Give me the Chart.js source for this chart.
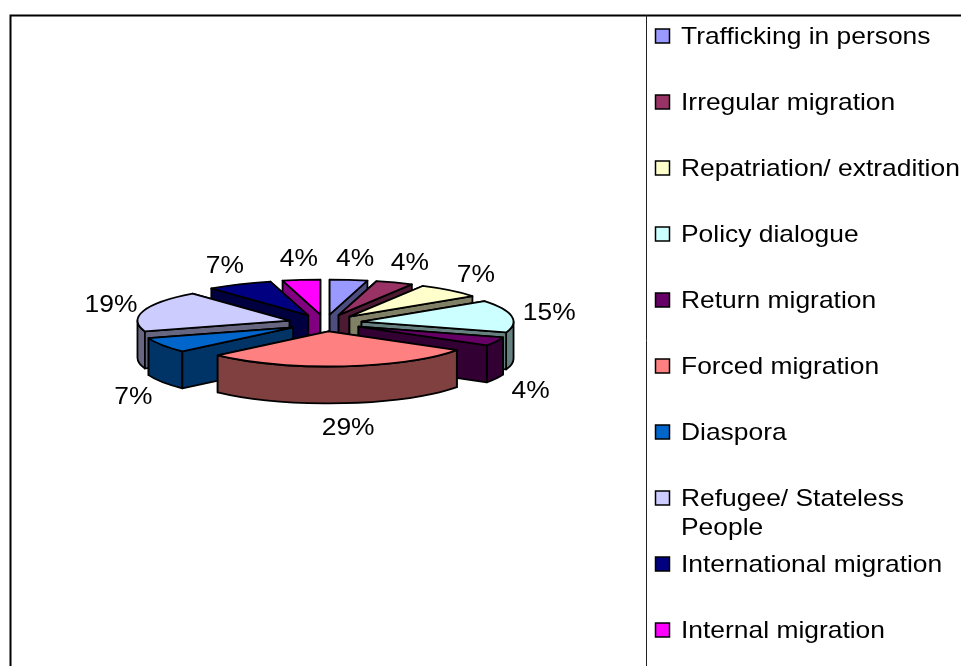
<!DOCTYPE html>
<html>
<head>
<meta charset="utf-8">
<style>html,body{margin:0;padding:0;background:#fff}canvas{display:block}</style>
<script src="https://cdn.jsdelivr.net/npm/chart.js@4"></script>
</head>
<body>
<canvas id="c" width="961" height="666"></canvas>
<script>
const categories = ['Trafficking in persons','Irregular migration','Repatriation/ extradition','Policy dialogue','Return migration','Forced migration','Diaspora','Refugee/ Stateless|People','International migration','Internal migration'];
const shares = [4,4,7,15,4,29,7,19,7,4];
const topColors = ['#9999FF','#993366','#FFFFCC','#CCFFFF','#660066','#FF8080','#0066CC','#CCCCFF','#000080','#FF00FF'];
const sideColors = ['#4D4D80','#4D1A33','#808066','#668080','#330033','#804040','#003366','#666680','#000040','#800080'];

const FONT = '24px "Liberation Sans", Arial, sans-serif';
const TEXT_STRETCH = 1.1;
const SQUASH = 0.23, DEPTH = 37, EXPLODE = 37, RADIUS = 152;
const LABEL_RX = 225, LABEL_RY = 65, LABEL_SHIFT_X = 2, LABEL_SHIFT_Y = 1, LABEL_DROP = 40;

function outline(ctx, fill){
  ctx.fillStyle = fill; ctx.fill(); ctx.stroke();
}
function stretchedText(ctx, text, x, y){
  ctx.save();
  ctx.translate(x,y);
  ctx.scale(TEXT_STRETCH,1);
  ctx.fillText(text,0,0);
  ctx.restore();
}

const pie3d = {
  id:'pie3d',
  beforeDatasetDraw(chart){
    const ctx = chart.ctx;
    const arcs = chart.getDatasetMeta(0).data.map((el,i)=>{
      const p = el.getProps(['x','y','startAngle','endAngle','outerRadius'],true);
      return {...p, i, mid:(p.startAngle+p.endAngle)/2};
    });
    const order = arcs.slice().sort((a,b)=>Math.sin(a.mid)-Math.sin(b.mid));
    ctx.save();
    ctx.strokeStyle = '#000'; ctx.lineWidth = 1.8; ctx.lineJoin = 'round';
    for(const a of order){
      const r = a.outerRadius, ry = r*SQUASH;
      const ox = a.x + Math.cos(a.mid)*EXPLODE;
      const oy = a.y + Math.sin(a.mid)*EXPLODE*SQUASH;
      const pt = t => [ox + r*Math.cos(t), oy + ry*Math.sin(t)];
      const wall = t => {
        const [px,py] = pt(t);
        ctx.beginPath();
        ctx.moveTo(ox,oy); ctx.lineTo(px,py); ctx.lineTo(px,py+DEPTH); ctx.lineTo(ox,oy+DEPTH); ctx.closePath();
        outline(ctx, sideColors[a.i]);
      };
      const startFront = -Math.cos(a.startAngle) > 0;
      const endFront = Math.cos(a.endAngle) > 0;
      if(!startFront) wall(a.startAngle);
      if(!endFront) wall(a.endAngle);
      const s = Math.max(a.startAngle,0), e = Math.min(a.endAngle,Math.PI);
      if(e > s){
        ctx.beginPath();
        ctx.ellipse(ox,oy,r,ry,0,s,e);
        ctx.ellipse(ox,oy+DEPTH,r,ry,0,e,s,true);
        ctx.closePath();
        outline(ctx, sideColors[a.i]);
      }
      if(startFront) wall(a.startAngle);
      if(endFront) wall(a.endAngle);
      ctx.beginPath();
      ctx.moveTo(ox,oy);
      ctx.ellipse(ox,oy,r,ry,0,a.startAngle,a.endAngle);
      ctx.closePath();
      outline(ctx, topColors[a.i]);
    }
    // percentage labels
    ctx.fillStyle = '#000'; ctx.font = FONT; ctx.textAlign = 'center'; ctx.textBaseline = 'middle';
    for(const a of arcs){
      const sn = Math.sin(a.mid);
      stretchedText(ctx, shares[a.i]+'%', a.x + LABEL_SHIFT_X + LABEL_RX*Math.cos(a.mid), a.y + LABEL_SHIFT_Y + LABEL_RY*sn + (sn>0?LABEL_DROP:0));
    }
    ctx.restore();
    return false;
  },
  afterDraw(chart){
    const ctx = chart.ctx;
    ctx.save();
    // frame
    ctx.strokeStyle = '#000'; ctx.lineWidth = 2;
    ctx.beginPath(); ctx.moveTo(961,15.5); ctx.lineTo(10.5,15.5); ctx.lineTo(10.5,666); ctx.stroke();
    ctx.lineWidth = 1; ctx.strokeStyle = '#222';
    ctx.beginPath(); ctx.moveTo(646.5,15); ctx.lineTo(646.5,666); ctx.stroke();
    // legend
    ctx.font = FONT; ctx.textAlign = 'left'; ctx.textBaseline = 'middle';
    categories.forEach((name,i)=>{
      const y = 36 + 66*i;
      ctx.fillStyle = topColors[i]; ctx.strokeStyle = '#000'; ctx.lineWidth = 1.5;
      ctx.fillRect(655.5,y-7,14,14); ctx.strokeRect(655.5,y-7,14,14);
      ctx.fillStyle = '#000';
      name.split('|').forEach((line,k)=>stretchedText(ctx,line,681,y+1+k*29));
    });
    ctx.restore();
  }
};

new Chart(document.getElementById('c'),{
  type:'pie',
  data:{labels:categories,datasets:[{data:shares,backgroundColor:topColors,radius:RADIUS,borderWidth:0}]},
  options:{
    responsive:false,animation:false,
    layout:{padding:{left:0,top:0,right:311,bottom:20}},
    plugins:{legend:{display:false},tooltip:{enabled:false}}
  },
  plugins:[pie3d]
});
</script>
</body>
</html>
